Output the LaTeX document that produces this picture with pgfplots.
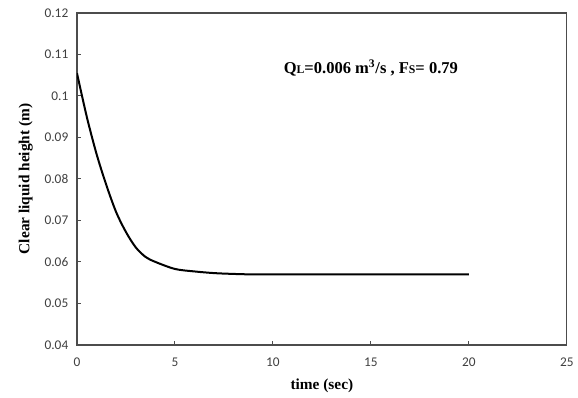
\documentclass[border=0pt]{standalone}
\usepackage{fontspec}
\setmainfont{Liberation Serif}
\newfontfamily\carlito{Carlito}
\usepackage{pgfplots}
\pgfplotsset{compat=1.18}
\begin{document}
\begin{tikzpicture}
\begin{axis}[
  scale only axis,
  width=367.5pt, height=249pt,
  xmin=0, xmax=25, ymin=0.04, ymax=0.12,
  xtick={0,5,10,15,20,25},
  ytick={0.04,0.05,0.06,0.07,0.08,0.09,0.1,0.11,0.12},
  yticklabels={0.04,0.05,0.06,0.07,0.08,0.09,0.1,0.11,0.12},
  tick pos=left,
  major tick length=3pt,
  tick align=inside,
  axis line style={draw=black!70, line width=1pt},
  every tick/.style={draw=black!70, line width=0.8pt},
  /pgf/number format/assume math mode=true,
  tick label style={font=\carlito\fontsize{10}{11}\selectfont, text=black!75},
  xticklabel style={yshift=-6pt},
  yticklabel style={xshift=-3pt},
  xlabel={\textbf{time (sec)}},
  ylabel={\textbf{Clear liquid height (m)}},
  label style={font=\fontsize{11.5}{13}\selectfont},
  xlabel style={yshift=-2.5pt},
  ylabel style={yshift=2pt},
]
\addplot[black, line width=1.5pt, smooth, tension=0.5] coordinates {
(0,0.1055) (0.5,0.0950) (1,0.0860) (1.5,0.0785) (2,0.0720) (2.5,0.0672)
(3,0.0635) (3.5,0.0612) (4,0.0600) (5,0.0583) (6,0.0577) (7,0.0573)
(8,0.0571) (9,0.0570) (12,0.0570) (16,0.0570) (20,0.0570)
};
\node[font=\bfseries\fontsize{12.4}{14}\selectfont, anchor=center] at (axis cs:15.0,0.1067)
  {Q{\fontsize{8.8}{10}\selectfont L}=0.006 m\textsuperscript{3}/s , F{\fontsize{8.8}{10}\selectfont S}= 0.79};
\end{axis}
\path ([shift={(-57.75pt,-36.75pt)}]current axis.south west) rectangle ([shift={(8.25pt,9.75pt)}]current axis.north east);
\end{tikzpicture}
\end{document}
